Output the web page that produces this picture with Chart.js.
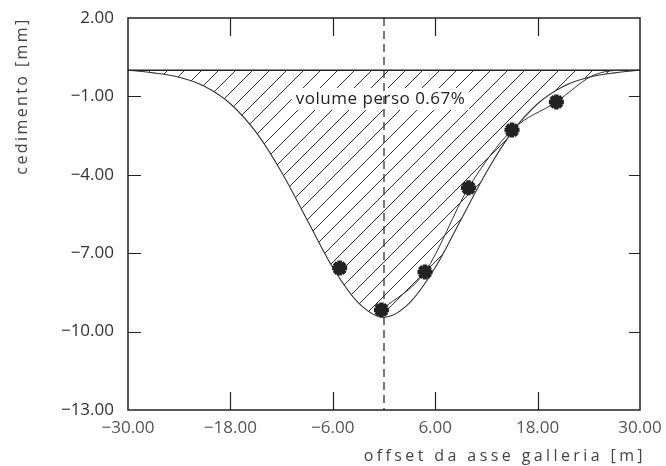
<!DOCTYPE html>
<html>
<head>
<meta charset="utf-8">
<script src="https://cdn.jsdelivr.net/npm/chart.js@4.4.1/dist/chart.umd.min.js"></script>
<style>
  html, body { margin: 0; padding: 0; background: #fff; }
  #wrap { width: 666px; height: 466px; }
</style>
</head>
<body>
<div id="wrap"><canvas id="c" width="666" height="466"></canvas></div>
<script>
// fitted settlement trough
const curveX = [-30, -27, -24, -21, -18, -15, -12, -9, -6, -3, 0, 3, 6, 9, 12, 15, 18, 21, 24, 27, 30];
const curveY = [0, -0.1, -0.27, -0.62, -1.28, -2.37, -3.9, -5.73, -7.55, -8.9, -9.45, -8.9, -7.55, -5.73, -3.9, -2.37, -1.28, -0.62, -0.27, -0.1, 0];

// measured points (asterisks)
const measX = [-5.2, -0.3, 4.8, 9.9, 15.0, 20.2];
const measY = [-7.57, -9.17, -7.72, -4.5, -2.29, -1.21];

// thin line joining the measured points on the right side
const measLineX = [-0.3, 4.8, 9.9, 15.0, 20.2, 24.5, 28, 30];
const measLineY = [-9.17, -7.72, -4.5, -2.29, -1.21, -0.2, 0, 0];

const xTicks = [-30, -18, -6, 6, 18, 30];
const yTicks = [2, -1, -4, -7, -10, -13];

const ink = '#222';

function toPoints(xs, ys) {
  return xs.map((x, i) => ({ x: x, y: ys[i] }));
}

function fmt(v) {
  return (v < 0 ? '\u2212' : '') + Math.abs(v).toFixed(2);
}

// diagonal hatch pattern
function makeHatch() {
  const s = 17;
  const p = document.createElement('canvas');
  p.width = s; p.height = s;
  const g = p.getContext('2d');
  g.strokeStyle = '#333';
  g.lineWidth = 1;
  g.beginPath();
  g.moveTo(-2, s + 2); g.lineTo(s + 2, -2);
  g.moveTo(-2, 2); g.lineTo(2, -2);
  g.moveTo(s - 2, s + 2); g.lineTo(s + 2, s - 2);
  g.stroke();
  return g.createPattern(p, 'repeat');
}

// frame, inward ticks and axis titles
const framePlugin = {
  id: 'frame',
  afterDatasetDraw(chart, args) {
    if (args.index !== 4) return;
    const ctx = chart.ctx;
    const x = chart.scales.x, y = chart.scales.y;
    const cx = x.getPixelForValue(-0.4), cy = y.getPixelForValue(-1.1);
    ctx.save();
    ctx.font = '17px "Open Sans"';
    ctx.letterSpacing = '0.5px';
    const label = 'volume perso 0.67%';
    const w = ctx.measureText(label).width;
    ctx.fillStyle = '#fff';
    ctx.fillRect(cx - w / 2 - 4, cy - 11, w + 8, 22);
    ctx.fillStyle = ink;
    ctx.textAlign = 'center';
    ctx.textBaseline = 'middle';
    ctx.fillText(label, cx, cy);
    ctx.restore();
  },
  afterDraw(chart) {
    const ctx = chart.ctx;
    const a = chart.chartArea;
    const x = chart.scales.x, y = chart.scales.y;
    ctx.save();
    ctx.strokeStyle = ink;
    ctx.lineWidth = 1.5;
    ctx.strokeRect(a.left, a.top, a.right - a.left, a.bottom - a.top);
    ctx.lineWidth = 1.2;
    ctx.beginPath();
    xTicks.slice(1, -1).forEach(v => {
      const px = Math.round(x.getPixelForValue(v)) + 0.5;
      ctx.moveTo(px, a.bottom); ctx.lineTo(px, a.bottom - 18);
      ctx.moveTo(px, a.top); ctx.lineTo(px, a.top + 18);
    });
    yTicks.slice(1, -1).forEach(v => {
      const py = Math.round(y.getPixelForValue(v)) + 0.5;
      ctx.moveTo(a.left, py); ctx.lineTo(a.left + 13, py);
      ctx.moveTo(a.right, py); ctx.lineTo(a.right - 11, py);
    });
    ctx.stroke();

    // axis titles
    ctx.fillStyle = '#444';
    ctx.font = '16px "Open Sans"';
    ctx.letterSpacing = '3.4px';
    ctx.textBaseline = 'middle';
    ctx.textAlign = 'right';
    ctx.fillText('offset da asse galleria [m]', 646, 456);
    ctx.letterSpacing = '2.4px';
    ctx.translate(22, 96);
    ctx.rotate(-Math.PI / 2);
    ctx.textAlign = 'center';
    ctx.fillText('cedimento [mm]', 0, 0);
    ctx.restore();
  }
};

const ctx = document.getElementById('c').getContext('2d');

new Chart(ctx, {
  type: 'scatter',
  data: {
    datasets: [
      {
        label: 'misure',
        data: toPoints(measX, measY),
        showLine: false,
        pointStyle: 'star',
        pointRadius: 7.5,
        borderWidth: 4.5,
        borderColor: ink,
        backgroundColor: ink
      },
      {
        label: 'asse',
        data: [{ x: 0, y: 2 }, { x: 0, y: -13 }],
        showLine: true,
        borderColor: ink,
        borderWidth: 1.2,
        borderDash: [8, 5],
        pointRadius: 0
      },
      {
        label: 'misurato',
        data: toPoints(measLineX, measLineY),
        showLine: true,
        borderColor: '#333',
        borderWidth: 1,
        cubicInterpolationMode: 'monotone',
        pointRadius: 0
      },
      {
        label: 'zero',
        data: [{ x: -30, y: 0 }, { x: 30, y: 0 }],
        showLine: true,
        borderColor: ink,
        borderWidth: 1.6,
        pointRadius: 0
      },
      {
        label: 'gauss',
        data: toPoints(curveX, curveY),
        showLine: true,
        borderColor: '#333',
        borderWidth: 1.1,
        cubicInterpolationMode: 'monotone',
        pointRadius: 0,
        fill: 'origin',
        backgroundColor: makeHatch()
      }
    ]
  },
  options: {
    responsive: false,
    animation: false,
    layout: { padding: { top: 18, right: 26, left: 0, bottom: 0 } },
    plugins: {
      legend: { display: false },
      tooltip: { enabled: false }
    },
    scales: {
      x: {
        type: 'linear',
        min: -30,
        max: 30,
        grid: { display: false, drawTicks: false },
        border: { display: false },
        afterFit: s => { s.height = 56; s.paddingLeft = 0; s.paddingRight = 0; },
        afterBuildTicks: s => { s.ticks = xTicks.map(v => ({ value: v })); },
        ticks: {
          padding: 8,
          color: '#555',
          font: { family: 'Open Sans', size: 17 },
          callback: v => fmt(v),
          maxRotation: 0
        }
      },
      y: {
        type: 'linear',
        min: -13,
        max: 2,
        grid: { display: false, drawTicks: false },
        border: { display: false },
        afterFit: s => { s.width = 128; s.paddingTop = 0; s.paddingBottom = 0; },
        afterBuildTicks: s => { s.ticks = yTicks.map(v => ({ value: v })); },
        ticks: {
          padding: 14,
          color: '#333',
          font: { family: 'Open Sans', size: 17 },
          callback: v => fmt(v)
        }
      }
    }
  },
  plugins: [framePlugin]
});
</script>
</body>
</html>
